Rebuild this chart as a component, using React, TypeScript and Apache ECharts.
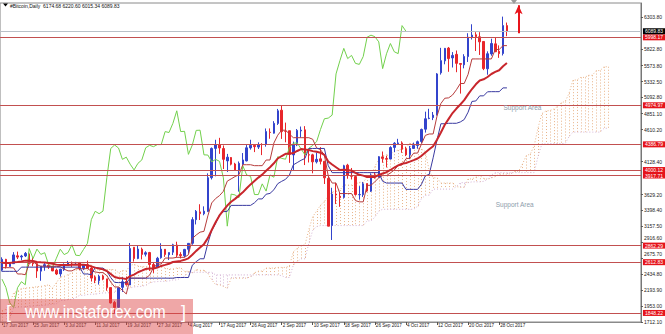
import React, { useEffect, useRef } from "react";
import * as echarts from "echarts";

// ---- Daily candles (17 Jun 2017 ... 30 Oct 2017) ----
const opens = [
  2493, 2655, 2549, 2591, 2709, 2691, 2707, 2738, 2607, 2591,
  2478, 2553, 2568, 2539, 2493, 2436, 2499, 2561, 2603, 2608,
  2609, 2520, 2573, 2525, 2386, 2333, 2403, 2361, 2230, 2007,
  1933, 2234, 2323, 2270, 2838, 2669, 2808, 2733, 2758, 2578,
  2539, 2680, 2807, 2724, 2763, 2871, 2727, 2710, 2807, 2898,
  3253, 3370, 3342, 3374, 3885, 4326, 4384, 4324, 4138, 4189,
  4091, 3998, 4089, 4138, 4333, 4372, 4346, 4385, 4389, 4570,
  4555, 4702, 4901, 4585, 4592, 4228, 4377, 4589, 4605, 4230,
  4229, 4123, 4169, 4132, 3875, 3166, 3638, 3606, 3591, 4074,
  3916, 3902, 3628, 3630, 3796, 3682, 3928, 3893, 4197, 4172,
  4166, 4341, 4396, 4409, 4319, 4230, 4325, 4369, 4430, 4615,
  4776, 4789, 4830, 5464, 5644, 5836, 5688, 5742, 5604, 5584,
  5708, 6000, 6037, 6006, 5936, 5525, 5748, 5900, 5788, 5754,
  6174.68,
];
const highs = [
  2686, 2663, 2614, 2764, 2772, 2723, 2766, 2758, 2682, 2615,
  2553, 2604, 2589, 2559, 2515, 2514, 2595, 2632, 2623, 2617,
  2609, 2571, 2636, 2537, 2414, 2424, 2425, 2363, 2231, 2030,
  2231, 2388, 2397, 2901, 2838, 2862, 2832, 2777, 2768, 2611,
  2693, 2898, 2809, 2759, 2890, 2921, 2763, 2813, 2899, 3290,
  3398, 3485, 3453, 3950, 4340, 4456, 4485, 4370, 4243, 4196,
  4109, 4129, 4256, 4376, 4456, 4379, 4417, 4404, 4626, 4627,
  4736, 4920, 4975, 4714, 4592, 4428, 4617, 4655, 4661, 4309,
  4245, 4262, 4345, 4132, 3921, 3733, 3809, 3665, 4079, 4094,
  4031, 3916, 3758, 3819, 3796, 3950, 3970, 4210, 4279, 4215,
  4358, 4420, 4470, 4433, 4352, 4363, 4413, 4444, 4624, 4879,
  4922, 4874, 5460, 5840, 5838, 5853, 5776, 5800, 5604, 5744,
  6060, 6195, 6076, 6076, 5936, 5787, 5977, 6002, 5877, 6310,
  6220.6,
];
const lows = [
  2473, 2517, 2540, 2590, 2660, 2642, 2690, 2583, 2552, 2376,
  2333, 2484, 2511, 2478, 2419, 2395, 2481, 2559, 2539, 2582,
  2490, 2493, 2518, 2321, 2297, 2275, 2341, 2183, 1990, 1843,
  1920, 2165, 2260, 2270, 2622, 2658, 2654, 2699, 2481, 2451,
  2529, 2665, 2693, 2645, 2721, 2686, 2669, 2685, 2744, 2875,
  3181, 3248, 3319, 3372, 3858, 3906, 4244, 4015, 3971, 4070,
  3989, 3675, 4078, 4130, 4307, 4270, 4317, 4225, 4352, 4471,
  4549, 4679, 4469, 4418, 4108, 3998, 4360, 4491, 4075, 4114,
  3951, 4099, 4085, 3790, 3154, 2947, 3488, 3446, 3570, 3869,
  3858, 3614, 3554, 3595, 3667, 3670, 3870, 3885, 4110, 4039,
  4161, 4270, 4378, 4259, 4210, 4164, 4321, 4321, 4406, 4564,
  4765, 4752, 4822, 5437, 5592, 5479, 5544, 5473, 5151, 5531,
  5627, 5965, 5792, 5733, 5504, 5435, 5721, 5829, 5689, 5725,
  6015.34,
];
const closes = [
  2656, 2548, 2590, 2722, 2689, 2705, 2745, 2609, 2589, 2479,
  2553, 2575, 2539, 2481, 2435, 2507, 2564, 2602, 2601, 2609,
  2518, 2571, 2518, 2373, 2338, 2399, 2358, 2233, 1999, 1930,
  2228, 2319, 2273, 2818, 2668, 2810, 2730, 2755, 2577, 2530,
  2672, 2809, 2727, 2757, 2875, 2718, 2711, 2805, 2896, 3253,
  3379, 3343, 3381, 3885, 4325, 4377, 4332, 4161, 4194, 4088,
  4002, 4101, 4152, 4335, 4372, 4352, 4383, 4383, 4579, 4565,
  4703, 4892, 4579, 4583, 4236, 4377, 4597, 4600, 4229, 4226,
  4123, 4161, 4131, 3883, 3155, 3638, 3625, 3583, 4065, 3925,
  3906, 3631, 3631, 3792, 3683, 3926, 3892, 4201, 4175, 4163,
  4339, 4404, 4409, 4318, 4229, 4328, 4371, 4427, 4611, 4772,
  4782, 4827, 5447, 5647, 5832, 5678, 5726, 5606, 5591, 5709,
  6000, 6031, 6008, 5930, 5527, 5751, 5905, 5781, 5753, 6175,
  6089.83,
];

// ---- Ichimoku lines ----
const tenkan = [
  2530, 2530, 2530, 2527, 2435, 2435, 2424, 2590, 2622, 2574,
  2552, 2552, 2552, 2550, 2550, 2545, 2508, 2482, 2482, 2514,
  2514, 2514, 2516, 2479, 2466, 2456, 2456, 2410, 2313, 2240,
  2240, 2190, 2134, 2372, 2372, 2372, 2372, 2372, 2417, 2533,
  2581, 2586, 2675, 2675, 2675, 2686, 2686, 2686, 2725, 2968,
  3022, 3065, 3077, 3310, 3505, 3571, 3615, 3680, 3833, 3867,
  3902, 3929, 4080, 4080, 4080, 4066, 4066, 4066, 4151, 4151,
  4407, 4525, 4600, 4600, 4542, 4487, 4487, 4487, 4487, 4487,
  4463, 4333, 4306, 4226, 3908, 3804, 3804, 3646, 3646, 3646,
  3646, 3540, 3521, 3521, 3770, 3770, 3824, 3882, 3917, 3917,
  3956, 4000, 4069, 4076, 4170, 4178, 4255, 4255, 4393, 4522,
  4543, 4543, 4812, 5002, 5081, 5087, 5130, 5209, 5303, 5303,
  5441, 5673, 5673, 5673, 5673, 5673, 5673, 5815, 5815, 5873,
  5873,
];
const kijun = [
  2475, 2475, 2475, 2475, 2475, 2538, 2538, 2538, 2538, 2538,
  2538, 2538, 2538, 2538, 2538, 2538, 2538, 2538, 2538, 2538,
  2538, 2435, 2435, 2424, 2535, 2524, 2524, 2478, 2381, 2308,
  2305, 2305, 2301, 2372, 2372, 2372, 2372, 2372, 2372, 2372,
  2372, 2372, 2372, 2372, 2372, 2382, 2382, 2382, 2382, 2567,
  2621, 2664, 2664, 2897, 3092, 3195, 3325, 3373, 3378, 3468,
  3468, 3468, 3468, 3468, 3468, 3507, 3565, 3565, 3636, 3648,
  3703, 3795, 3830, 3860, 3925, 4078, 4112, 4147, 4174, 4325,
  4325, 4325, 4325, 4325, 4065, 3961, 3961, 3961, 3961, 3961,
  3961, 3961, 3961, 3961, 3961, 3961, 3961, 3961, 3831, 3804,
  3804, 3804, 3804, 3804, 3709, 3709, 3709, 3709, 3786, 3913,
  3935, 4184, 4453, 4697, 4697, 4704, 4704, 4704, 4724, 4760,
  4871, 5033, 5040, 5117, 5117, 5178, 5180, 5180, 5180, 5237,
  5237,
];
// Senkou spans, already shifted 26 bars forward (157 values)
const spanA = [
  1883, 1903, 1998, 2150, 2178, 2215, 2222, 2230, 2235, 2243,
  2248, 2260, 2270, 2223, 2303, 2388, 2400, 2425, 2450, 2500,
  2545, 2561, 2587, 2570, 2499, 2499,
  2503, 2503, 2503, 2501, 2455, 2487, 2481, 2564, 2580, 2556,
  2545, 2545, 2545, 2544, 2544, 2542, 2523, 2510, 2510, 2526,
  2526, 2475, 2476, 2452, 2501, 2490, 2490, 2444, 2347, 2274,
  2273, 2248, 2218, 2372, 2372, 2372, 2372, 2372, 2395, 2453,
  2477, 2479, 2524, 2524, 2524, 2534, 2534, 2534, 2554, 2768,
  2822, 2865, 2871, 3104, 3298, 3383, 3470, 3527, 3606, 3668,
  3685, 3699, 3774, 3774, 3774, 3787, 3816, 3816, 3894, 3900,
  4055, 4160, 4215, 4230, 4234, 4283, 4300, 4317, 4331, 4406,
  4394, 4329, 4316, 4276, 3987, 3883, 3883, 3804, 3804, 3804,
  3804, 3751, 3741, 3741, 3866, 3866, 3893, 3922, 3874, 3861,
  3880, 3902, 3937, 3940, 3940, 3944, 3982, 3982, 4090, 4218,
  4239, 4364, 4633, 4850, 4889, 4896, 4917, 4957, 5014, 5032,
  5156, 5353, 5357, 5395, 5395, 5426, 5427, 5498, 5498, 5555,
  5555,
];
const spanB = [
  1655, 1675, 1770, 1930, 1932, 1938, 1938, 1951, 1951, 1958,
  1962, 1962, 1971, 1984, 1986, 2036, 2036, 2049, 2055, 2082,
  2113, 2113, 2125, 2131, 2131, 2142,
  2150, 2150, 2155, 2160, 2172, 2200, 2210, 2225, 2240, 2245,
  2250, 2265, 2300, 2315, 2320, 2325, 2325, 2330, 2345, 2345,
  2375, 2400, 2460, 2460, 2460, 2460, 2460, 2460, 2460, 2421,
  2421, 2421, 2421, 2421, 2421, 2421, 2421, 2421, 2421, 2421,
  2421, 2421, 2421, 2421, 2421, 2421, 2410, 2382, 2382, 2567,
  2621, 2664, 2664, 2897, 3092, 3150, 3164, 3164, 3164, 3164,
  3164, 3164, 3164, 3164, 3164, 3164, 3164, 3164, 3235, 3235,
  3290, 3382, 3409, 3409, 3409, 3409, 3409, 3409, 3409, 3409,
  3409, 3454, 3570, 3618, 3623, 3713, 3713, 3713, 3713, 3713,
  3713, 3752, 3810, 3810, 3810, 3822, 3822, 3822, 3830, 3860,
  3925, 3961, 3961, 3961, 3961, 3961, 3961, 3961, 3961, 3961,
  3961, 3961, 4204, 4394, 4394, 4400, 4400, 4400, 4400, 4400,
  4504, 4571, 4571, 4571, 4571, 4571, 4571, 4571, 4571, 4629,
  4629,
];
// thick moving average
const maLine = [
  2605, 2600, 2599, 2610, 2617, 2625, 2636, 2634, 2630, 2616,
  2610, 2607, 2601, 2590, 2576, 2570, 2569, 2572, 2575, 2578,
  2573, 2573, 2568, 2550, 2531, 2519, 2504, 2479, 2435, 2389,
  2374, 2369, 2360, 2402, 2426, 2461, 2485, 2510, 2516, 2517,
  2531, 2556, 2572, 2589, 2615, 2624, 2632, 2648, 2671, 2724,
  2783, 2834, 2884, 2975, 3098, 3214, 3316, 3393, 3466, 3522,
  3566, 3615, 3664, 3725, 3784, 3836, 3886, 3931, 3990, 4042,
  4102, 4174, 4211, 4245, 4244, 4256, 4287, 4316, 4308, 4301,
  4285, 4274, 4261, 4227, 4129, 4084, 4042, 4000, 4006, 3999,
  3990, 3958, 3928, 3916, 3895, 3898, 3897, 3925, 3948, 3967,
  4001, 4038, 4071, 4094, 4106, 4126, 4149, 4174, 4214, 4265,
  4312, 4358, 4457, 4566, 4681, 4771, 4858, 4926, 4987, 5052,
  5139, 5220, 5291, 5349, 5366, 5401, 5446, 5477, 5502, 5563,
  5611,
];
const CHIKOU_SHIFT = 26;

// ---- axes ----
const dateLabels = [
  "17 Jun 2017", "25 Jun 2017", "3 Jul 2017", "11 Jul 2017", "19 Jul 2017",
  "27 Jul 2017", "4 Aug 2017", "17 Aug 2017", "26 Aug 2017", "2 Sep 2017",
  "10 Sep 2017", "18 Sep 2017", "26 Sep 2017", "4 Oct 2017", "12 Oct 2017",
  "20 Oct 2017", "28 Oct 2017",
];
const DATE_STEP = 8;
const TOTAL_SLOTS = 165;
const yTickLabels = [
  "6303.80", "5822.80", "5573.80", "5332.50", "5092.80", "4851.10",
  "4610.20", "4128.40", "3629.20", "3398.40", "3157.50",
  "2916.60", "2675.70", "2434.80", "2193.90", "1953.00", "1712.10",
];
const Y_MIN = 1712.1;
const Y_MAX = 6515;

// ---- horizontal levels & annotations ----
const levels = [5998.17, 4974.97, 4386.79, 4000.12, 3917.71, 2862.29, 2612.83, 1848.22];
const currentPrice = 6089.83;
const arrow = { bar: 133, from: 6060, to: 6480 };
const annotations = [
  { text: "Support Area", bar: 134, price: 4941 },
  { text: "Support Area", bar: 132, price: 3474 },
];

const FONT = "'Liberation Sans', Arial, sans-serif";

export default function App() {
  const ref = useRef<HTMLDivElement>(null);
  useEffect(() => {
    document.body.style.margin = "0";
    const chart = echarts.init(ref.current as HTMLDivElement, null, { renderer: "svg" });
    const cats = Array.from({ length: TOTAL_SLOTS }, (_, i) => String(i));
    const candleData = opens.map((o, i) => [o, closes[i], lows[i], highs[i]]);
    const chikou = closes.slice(CHIKOU_SHIFT);
    const cloudData = spanA.map((a, i) => [i, a, spanB[i]]);
    const yTickValues = yTickLabels.map(Number);
    // a scale label that sits just above a level box is nudged up a little
    const nearLevel = (t: number) => levels.some((l) => t - l > 0 && t - l < 100);
    const showDate = (i: number) => i % DATE_STEP === 0 && i / DATE_STEP < dateLabels.length;
    const last = opens.length - 1;
    const labelBase = {
      show: true,
      position: "end",
      color: "#fff",
      fontSize: 5,
      fontFamily: FONT,
      padding: [1, 2, 0, 2],
      distance: 2,
    };
    const lineSeries = (data: number[], color: string, width: number, z: number, type: any = "solid") => ({
      type: "line",
      data,
      symbol: "none",
      showSymbol: false,
      silent: true,
      z,
      lineStyle: { color, width, type },
    });

    chart.setOption({
      animation: false,
      backgroundColor: "#fff",
      textStyle: { fontFamily: FONT },
      title: {
        text: `#Bitcoin,Daily  ${opens[last].toFixed(2)} ${highs[last].toFixed(2)} ${lows[last].toFixed(2)} ${closes[last].toFixed(2)}`,
        left: 10,
        top: 3,
        padding: 0,
        textStyle: { fontSize: 5, fontWeight: "normal", color: "#111", fontFamily: FONT },
      },
      grid: {
        left: 0,
        right: 22,
        top: 3,
        bottom: 12,
        show: true,
        borderColor: "#8a8a8a",
        borderWidth: 1,
      },
      xAxis: {
        type: "category",
        data: cats,
        boundaryGap: true,
        axisLine: { show: true, lineStyle: { color: "#8a8a8a" } },
        axisTick: {
          show: true,
          alignWithLabel: true,
          interval: (i: number) => showDate(i),
          length: 3,
          lineStyle: { color: "#555" },
        },
        axisLabel: {
          interval: (i: number) => showDate(i),
          formatter: (_v: string, i: number) => (showDate(i) ? dateLabels[i / DATE_STEP] : ""),
          fontSize: 4.6,
          color: "#222",
          align: "left",
          margin: 1,
          padding: [0, 0, 0, 1],
          fontFamily: FONT,
        },
        splitLine: { show: false },
      },
      yAxis: {
        type: "value",
        position: "right",
        min: Y_MIN,
        max: Y_MAX,
        axisLine: { show: true, lineStyle: { color: "#777" } },
        axisTick: { show: true, length: 2, customValues: yTickValues, lineStyle: { color: "#555" } },
        axisLabel: {
          customValues: yTickValues,
          formatter: (v: number) => {
            const k = yTickValues.findIndex((t) => Math.abs(t - v) < 0.01);
            if (k < 0) return "";
            return nearLevel(yTickValues[k]) ? `{up|${yTickLabels[k]}}` : yTickLabels[k];
          },
          fontSize: 5,
          color: "#222",
          margin: 3,
          fontFamily: FONT,
          rich: {
            up: { fontSize: 5, color: "#222", fontFamily: FONT, padding: [0, 0, 8, 0] },
          },
        },
        splitLine: { show: false },
      },
      graphic: [
        { type: "polygon", shape: { points: [[3, 3.5], [8, 3.5], [5.5, 6.5]] }, style: { fill: "#000" } },
        { type: "polygon", shape: { points: [[511, 0], [517, 0], [514, 4]] }, style: { fill: "#9a9a9a" } },
        {
          type: "rect",
          shape: { x: 0, y: 299, width: 193, height: 35 },
          style: { fill: "rgba(222,72,72,0.48)" },
          z: 100,
          silent: true,
        },
        {
          type: "text",
          x: 6,
          y: 312,
          z: 101,
          style: { text: "[", fill: "#fff", fontSize: 18, fontFamily: FONT, verticalAlign: "middle" },
        },
        {
          type: "text",
          x: 25,
          y: 312,
          scaleX: 0.88,
          z: 101,
          style: { text: "www.instaforex.com", fill: "#fff", fontSize: 18, fontFamily: FONT, verticalAlign: "middle" },
        },
        {
          type: "text",
          x: 181,
          y: 312,
          z: 101,
          style: { text: "]", fill: "#fff", fontSize: 18, fontFamily: FONT, verticalAlign: "middle" },
        },
      ],
      series: [
        {
          type: "custom",
          data: cloudData,
          z: 1,
          silent: true,
          encode: { x: 0, y: [1, 2] },
          renderItem: (_p: any, api: any) => {
            const i = api.value(0);
            const a = api.value(1);
            const b = api.value(2);
            const p1 = api.coord([i, a]);
            const p2 = api.coord([i, b]);
            const x = Math.round(p1[0]) + 0.5;
            return {
              type: "line",
              shape: { x1: x, y1: p1[1], x2: x, y2: p2[1] },
              style: { stroke: a >= b ? "#e8b48a" : "#d4b2d4", lineWidth: 1, lineDash: [1, 2] },
            };
          },
        },
        lineSeries(spanA, "#e8b48a", 1, 1, [1, 2]),
        lineSeries(spanB, "#d4b2d4", 1, 1, [1, 2]),
        {
          type: "candlestick",
          data: candleData,
          barWidth: 2,
          z: 3,
          silent: true,
          itemStyle: {
            color: "#3344cc",
            color0: "#e8262b",
            borderColor: "#3344cc",
            borderColor0: "#e8262b",
            borderWidth: 1,
          },
          markLine: {
            silent: true,
            symbol: ["none", "none"],
            data: [
              ...levels.map((v) => ({
                yAxis: v,
                lineStyle: { color: "#c25050", width: 1, type: "solid" },
                label: { ...labelBase, formatter: v.toFixed(2), backgroundColor: "#e5141b" },
              })),
              {
                yAxis: currentPrice,
                lineStyle: { color: "#b9c0c8", width: 1, type: "solid" },
                label: { ...labelBase, formatter: currentPrice.toFixed(2), backgroundColor: "#000" },
              },
              [
                {
                  coord: [arrow.bar, arrow.from],
                  symbol: "none",
                  lineStyle: { color: "#e8141b", width: 2, type: "solid" },
                  label: { show: false },
                },
                { coord: [arrow.bar, arrow.to], symbol: "arrow", symbolSize: [6, 9] },
              ],
            ],
          },
          markPoint: {
            silent: true,
            symbol: "rect",
            symbolSize: 1,
            itemStyle: { color: "rgba(0,0,0,0)" },
            label: {
              show: true,
              position: "inside",
              color: "#8d9cab",
              fontSize: 6.5,
              fontFamily: FONT,
              formatter: (p: any) => p.name,
            },
            data: annotations.map((a) => ({ name: a.text, coord: [a.bar, a.price] })),
          },
        },
        lineSeries(chikou, "#72d04c", 1, 4),
        lineSeries(tenkan, "#b63c3c", 1, 4),
        lineSeries(kijun, "#3a3aa0", 1, 4),
        lineSeries(maLine, "#c8262c", 2, 5),
      ],
    });
    return () => chart.dispose();
  }, []);
  return (
    <div
      ref={ref}
      style={{ position: "fixed", left: 0, top: 0, width: 665, height: 334, background: "#fff" }}
    />
  );
}
